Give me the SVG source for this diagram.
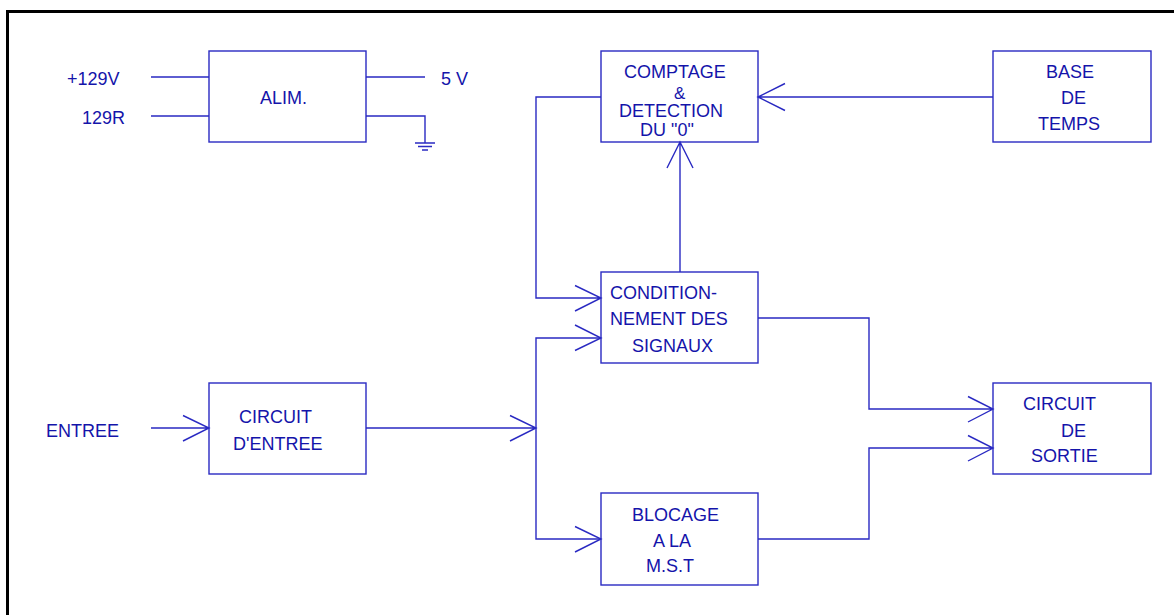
<svg xmlns="http://www.w3.org/2000/svg" width="1174" height="615" viewBox="0 0 1174 615">
  <style>
    .box { fill: #ffffff; stroke: #2a2ac2; stroke-width: 1.4; }
    .wire { fill: none; stroke: #2a2ac2; stroke-width: 1.4; }
    .lbl { font-family: "Liberation Sans", Arial, sans-serif; font-size: 18px; fill: #1414aa; }
  </style>
  <rect x="0" y="0" width="1174" height="615" fill="#ffffff"/>
  <!-- frame -->
  <rect x="7.5" y="11.5" width="1300" height="800" fill="none" stroke="#000000" stroke-width="3"/>

  <!-- power supply -->
  <g id="alim">
    <rect class="box" x="209" y="51" width="157" height="91"/>
    <text class="lbl" x="260" y="104">ALIM.</text>
  </g>
  <g id="alim-io">
    <text class="lbl" x="67" y="85">+129V</text>
    <text class="lbl" x="82" y="124">129R</text>
    <text class="lbl" x="441" y="85">5 V</text>
    <path class="wire" d="M151,77 H209 M151,116 H209 M366,77 H425 M366,116 H425 V143"/>
    <path class="wire" d="M415,143 H435 M418,146.5 H432 M422,150 H428"/>
  </g>

  <g id="comptage">
    <rect class="box" x="601" y="51" width="157" height="91"/>
    <text class="lbl" x="624" y="78">COMPTAGE</text>
    <text class="lbl" x="674" y="98.5" style="font-size:17px">&amp;</text>
    <text class="lbl" x="619" y="117">DETECTION</text>
    <text class="lbl" x="640" y="136">DU "0"</text>
  </g>

  <g id="base-temps">
    <rect class="box" x="993" y="51" width="158" height="91"/>
    <text class="lbl" x="1046" y="78">BASE</text>
    <text class="lbl" x="1061" y="104">DE</text>
    <text class="lbl" x="1038" y="130">TEMPS</text>
  </g>

  <g id="conditionnement">
    <rect class="box" x="601" y="272" width="157" height="91"/>
    <text class="lbl" x="610" y="299">CONDITION-</text>
    <text class="lbl" x="610" y="325">NEMENT DES</text>
    <text class="lbl" x="632" y="352">SIGNAUX</text>
  </g>

  <g id="circuit-entree">
    <rect class="box" x="209" y="383" width="157" height="91"/>
    <text class="lbl" x="239" y="423">CIRCUIT</text>
    <text class="lbl" x="233" y="450">D'ENTREE</text>
  </g>

  <g id="entree">
    <text class="lbl" x="46" y="437">ENTREE</text>
  </g>

  <g id="circuit-sortie">
    <rect class="box" x="993" y="383" width="158" height="91"/>
    <text class="lbl" x="1023" y="410">CIRCUIT</text>
    <text class="lbl" x="1061" y="437">DE</text>
    <text class="lbl" x="1031" y="462">SORTIE</text>
  </g>

  <g id="blocage">
    <rect class="box" x="601" y="493" width="157" height="92"/>
    <text class="lbl" x="632" y="521">BLOCAGE</text>
    <text class="lbl" x="653" y="547">A LA</text>
    <text class="lbl" x="646" y="572">M.S.T</text>
  </g>

  <g id="connectors">
    <!-- time base to counter -->
    <path class="wire" d="M993,97 H758 M785,83.5 L758,97 L785,110.5"/>
    <!-- conditioning to counter -->
    <path class="wire" d="M680,272 V142 M667,168 L680,142 L693,168"/>
    <!-- counter loop back to conditioning -->
    <path class="wire" d="M601,97 H536 V298 H601 M575,285.5 L601,298 L575,311"/>
    <!-- input -->
    <path class="wire" d="M151,428 H209 M183,415.5 L209,428 L183,441"/>
    <!-- input circuit to bus -->
    <path class="wire" d="M366,428 H536 M510,415.5 L536,428 L510,441"/>
    <path class="wire" d="M601,338 H536 V539 H601"/>
    <path class="wire" d="M575,325 L601,338 L575,350.5 M575,526.5 L601,539 L575,552"/>
    <!-- outputs to output circuit -->
    <path class="wire" d="M758,318 H869 V409 H993 M968,396.5 L993,409 L968,422"/>
    <path class="wire" d="M758,539 H869 V448 H993 M968,435.5 L993,448 L968,461"/>
  </g>
</svg>
